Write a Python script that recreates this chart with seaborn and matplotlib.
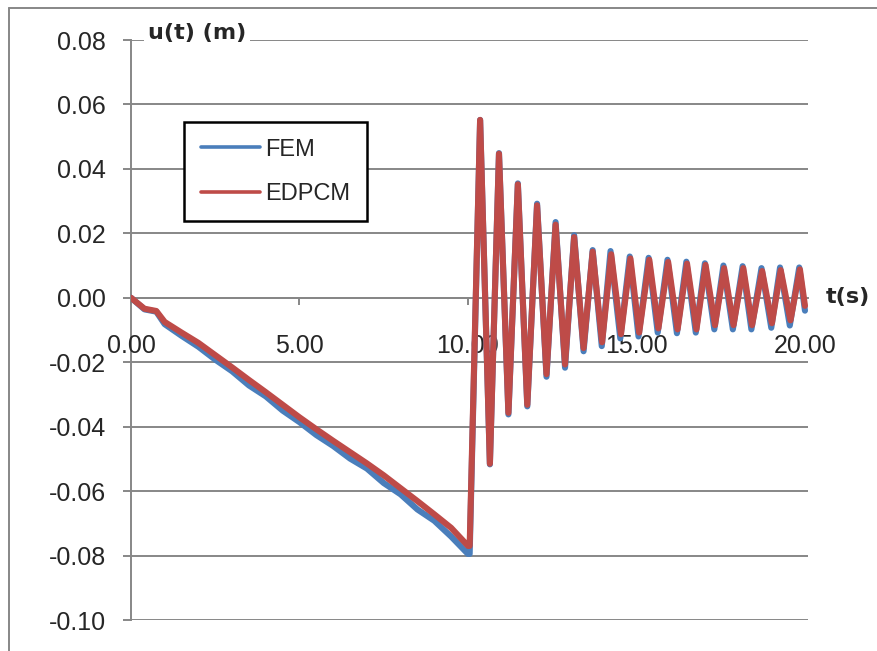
#-------------------------------------------
# Displacement u(t) of FEM vs EDPCM
# (Excel-style chart rebuilt with seaborn)
#-------------------------------------------

import numpy as np
import pandas as pd
import matplotlib
matplotlib.use("Agg")
import matplotlib.pyplot as plt
from matplotlib.lines import Line2D
from matplotlib.ticker import FormatStrFormatter
import seaborn as sns

#-----------------------DATA-----------------------------------

# loading phase, 0 - 10 s
t_ramp = [0.0, 0.4, 0.75, 1.0, 1.5, 2.0, 2.5, 3.0, 3.5, 4.0, 4.5, 5.0,
          5.5, 6.0, 6.5, 7.0, 7.5, 8.0, 8.5, 9.0, 9.5, 10.0]
fem_ramp = [0.0, -0.0036, -0.0043, -0.0082, -0.0118, -0.0152, -0.0192, -0.0228,
            -0.0272, -0.0306, -0.0350, -0.0386, -0.0426, -0.0460, -0.0499, -0.0530,
            -0.0575, -0.0610, -0.0657, -0.0692, -0.0741, -0.0795]
edpcm_ramp = [0.0, -0.0034, -0.0041, -0.0075, -0.0108, -0.0140, -0.0178, -0.0216,
              -0.0255, -0.0293, -0.0332, -0.0371, -0.0408, -0.0444, -0.0479, -0.0514,
              -0.0551, -0.0591, -0.0631, -0.0672, -0.0714, -0.0770]

# free vibration after release (peaks and troughs), 10 - 20 s
t_osc_edpcm = [10.05, 10.36, 10.65, 10.92, 11.20, 11.48, 11.76, 12.05, 12.33, 12.60,
               12.88, 13.15, 13.43, 13.70, 13.98, 14.25, 14.54, 14.82, 15.08, 15.38,
               15.65, 15.94, 16.22, 16.50, 16.78, 17.05, 17.33, 17.60, 17.88, 18.17,
               18.43, 18.73, 19.02, 19.28, 19.57, 19.85, 20.0]
u_osc_edpcm = [-0.0770, 0.0552, -0.0515, 0.0447, -0.0357, 0.0352, -0.0332, 0.0287,
               -0.0237, 0.0227, -0.0207, 0.0188, -0.0156, 0.0143, -0.0138, 0.0135,
               -0.0113, 0.0122, -0.0108, 0.0118, -0.0095, 0.0111, -0.0098, 0.0106,
               -0.0098, 0.0102, -0.0085, 0.0092, -0.0085, 0.0092, -0.0085, 0.0083,
               -0.0079, 0.0086, -0.0070, 0.0088, -0.0025]

t_osc_fem = [10.05, 10.36, 10.65, 10.92, 11.20, 11.48, 11.76, 12.05, 12.33, 12.60,
             12.88, 13.15, 13.43, 13.70, 13.97, 14.23, 14.52, 14.80, 15.06, 15.36,
             15.63, 15.92, 16.20, 16.48, 16.76, 17.03, 17.31, 17.58, 17.86, 18.15,
             18.41, 18.71, 19.00, 19.26, 19.55, 19.83, 20.0]
u_osc_fem = [-0.0795, 0.0552, -0.0517, 0.0449, -0.0362, 0.0355, -0.0337, 0.0292,
             -0.0245, 0.0235, -0.0217, 0.0194, -0.0166, 0.0148, -0.0150, 0.0145,
             -0.0126, 0.0128, -0.0120, 0.0124, -0.0108, 0.0118, -0.0110, 0.0112,
             -0.0108, 0.0107, -0.0098, 0.0100, -0.0098, 0.0098, -0.0098, 0.0092,
             -0.0093, 0.0094, -0.0086, 0.0094, -0.0040]

x_ticks = [0, 5, 10, 15, 20]
x_tick_labels = ["0.00", "5.00", "10.00", "15.00", "20.00"]
y_ticks = [-0.10, -0.08, -0.06, -0.04, -0.02, 0.0, 0.02, 0.04, 0.06, 0.08]

series_names = ["FEM", "EDPCM"]
colours = {"FEM": "#4A7EBB", "EDPCM": "#BE4B48"}

t_fem = t_ramp + t_osc_fem
u_fem = fem_ramp + u_osc_fem
t_edpcm = t_ramp + t_osc_edpcm
u_edpcm = edpcm_ramp + u_osc_edpcm

df = pd.DataFrame({
    "t": t_fem + t_edpcm,
    "u": u_fem + u_edpcm,
    "model": ["FEM"] * len(t_fem) + ["EDPCM"] * len(t_edpcm),
})

#-----------------------PLOTTING-------------------------------

sns.set_style("white")
plt.rcParams["font.family"] = ["Liberation Sans", "DejaVu Sans"]

grid_col = "#878787"
W, H = 878, 651

fig = plt.figure(figsize=(W / 100, H / 100), dpi=100)
ax = fig.add_axes([131 / W, 1 - 620 / H, (808 - 131) / W, (620 - 40) / H])

sns.lineplot(data=df, x="t", y="u", hue="model", hue_order=series_names,
             palette=colours, sort=False, estimator=None, lw=4.4,
             solid_joinstyle="round", solid_capstyle="round", legend=False, ax=ax)

ax.set_xlim(0, 20.09)
ax.set_ylim(-0.10, 0.08)
ax.set_xlabel("")
ax.set_ylabel("")

ax.set_xticks(x_ticks)
ax.set_xticklabels(x_tick_labels)
ax.set_yticks(y_ticks)
ax.yaxis.set_major_formatter(FormatStrFormatter("%.2f"))

ax.set_axisbelow(True)
ax.yaxis.grid(True, color=grid_col, lw=1.4)
ax.xaxis.grid(False)

for side in ["top", "right"]:
    ax.spines[side].set_visible(False)
ax.spines["bottom"].set_position(("data", 0))
for side in ["left", "bottom"]:
    ax.spines[side].set_color(grid_col)
    ax.spines[side].set_linewidth(1.4)
    ax.spines[side].set_zorder(0.5)

ax.tick_params(axis="y", direction="out", length=6, width=1.4, color=grid_col,
               labelsize=18, pad=12, left=True)
ax.tick_params(axis="x", direction="out", length=5, width=1.4, color=grid_col,
               labelsize=18, pad=21, bottom=True)

# legend box
handles = [Line2D([], [], color=colours[n], lw=2.6) for n in series_names]
leg = ax.legend(handles, series_names, loc="upper left",
                bbox_to_anchor=(53 / 677, (620 - 122) / 580), borderaxespad=0,
                fontsize=17, frameon=True, fancybox=False, framealpha=1,
                edgecolor="black", handlelength=2.5, handletextpad=0.25,
                labelspacing=0.95, borderpad=0.7)
leg.get_frame().set_linewidth(1.8)

# axis titles, Excel style
fig.text(148 / W, 1 - 33 / H, "u(t) (m)", fontsize=16, fontweight="bold",
         family=["DejaVu Sans"], va="center", ha="left",
         bbox=dict(facecolor="white", edgecolor="none", pad=3))
fig.text(826 / W, 1 - 297 / H, "t(s)", fontsize=16, fontweight="bold",
         family=["DejaVu Sans"], va="center", ha="left")

# chart area frame (left and top edges visible)
fig.add_artist(Line2D([9 / W, 9 / W], [0, 1 - 8 / H], color=grid_col, lw=1.4))
fig.add_artist(Line2D([9 / W, 1], [1 - 8 / H, 1 - 8 / H], color=grid_col, lw=1.4))

plt.savefig("out.png", dpi=100)
